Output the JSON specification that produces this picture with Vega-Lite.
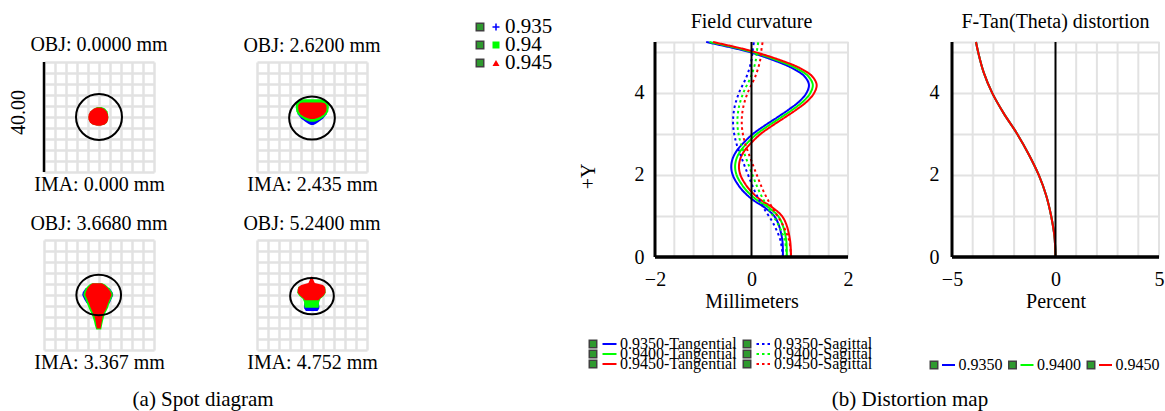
{
"$schema": "https://vega.github.io/schema/vega-lite/v6.json",
"background": "white",
"padding": {"left": 8, "top": 12, "right": 2, "bottom": 2},
"config": {
  "view": {"stroke": null},
  "font": "Liberation Serif",
  "title": {"font": "Liberation Serif", "fontSize": 20, "fontWeight": "normal", "color": "#000000"},
  "axis": {"labelFont": "Liberation Serif", "titleFont": "Liberation Serif", "labelFontSize": 20, "titleFontSize": 20, "labelColor": "#000000", "titleColor": "#000000", "titleFontWeight": "normal", "gridColor": "#e2e2e2", "gridWidth": 2, "ticks": false, "domain": false, "labelFlush": false, "labelOverlap": false, "labelBound": false},
  "text": {"font": "Liberation Serif", "color": "#000000"}
},
"datasets": {
  "spots": [
    {"panel":"p1","wl":"0.940","y":3.6,"xl":-0.6,"xr":0.9},
    {"panel":"p1","wl":"0.940","y":3.1,"xl":-1.8,"xr":2.2},
    {"panel":"p1","wl":"0.940","y":2.0,"xl":-3.1,"xr":3.1},
    {"panel":"p1","wl":"0.940","y":1.0,"xl":-3.6,"xr":3.3},
    {"panel":"p1","wl":"0.940","y":0.0,"xl":-3.8,"xr":3.4},
    {"panel":"p1","wl":"0.940","y":-1.0,"xl":-3.7,"xr":3.3},
    {"panel":"p1","wl":"0.940","y":-2.0,"xl":-3.2,"xr":2.9},
    {"panel":"p1","wl":"0.940","y":-2.7,"xl":-2.3,"xr":2.1},
    {"panel":"p1","wl":"0.940","y":-3.1,"xl":-0.7,"xr":0.6},
    {"panel":"p1","wl":"0.945","y":3.5,"xl":-0.8,"xr":0.6},
    {"panel":"p1","wl":"0.945","y":3.0,"xl":-2.0,"xr":1.8},
    {"panel":"p1","wl":"0.945","y":2.0,"xl":-3.2,"xr":2.8},
    {"panel":"p1","wl":"0.945","y":1.0,"xl":-3.7,"xr":3.2},
    {"panel":"p1","wl":"0.945","y":0.0,"xl":-3.9,"xr":3.4},
    {"panel":"p1","wl":"0.945","y":-1.0,"xl":-3.8,"xr":3.3},
    {"panel":"p1","wl":"0.945","y":-2.0,"xl":-3.3,"xr":2.9},
    {"panel":"p1","wl":"0.945","y":-2.7,"xl":-2.4,"xr":2.1},
    {"panel":"p1","wl":"0.945","y":-3.2,"xl":-0.8,"xr":0.6},

    {"panel":"p2","wl":"0.935","y":5.5,"xl":-5.6,"xr":5.8},
    {"panel":"p2","wl":"0.935","y":3.0,"xl":-5.7,"xr":5.9},
    {"panel":"p2","wl":"0.935","y":1.0,"xl":-5.2,"xr":5.3},
    {"panel":"p2","wl":"0.935","y":-0.5,"xl":-4.0,"xr":4.1},
    {"panel":"p2","wl":"0.935","y":-1.8,"xl":-2.3,"xr":2.4},
    {"panel":"p2","wl":"0.935","y":-2.5,"xl":-1.2,"xr":1.3},
    {"panel":"p2","wl":"0.935","y":-2.9,"xl":-0.4,"xr":0.5},
    {"panel":"p2","wl":"0.940","y":6.5,"xl":-3.0,"xr":3.2},
    {"panel":"p2","wl":"0.940","y":6.1,"xl":-4.8,"xr":5.0},
    {"panel":"p2","wl":"0.940","y":5.2,"xl":-5.8,"xr":6.0},
    {"panel":"p2","wl":"0.940","y":3.5,"xl":-5.9,"xr":6.1},
    {"panel":"p2","wl":"0.940","y":2.0,"xl":-5.7,"xr":5.9},
    {"panel":"p2","wl":"0.940","y":1.0,"xl":-5.1,"xr":5.3},
    {"panel":"p2","wl":"0.940","y":0.0,"xl":-4.1,"xr":4.3},
    {"panel":"p2","wl":"0.940","y":-1.0,"xl":-2.6,"xr":2.8},
    {"panel":"p2","wl":"0.940","y":-1.7,"xl":-0.8,"xr":1.0},
    {"panel":"p2","wl":"0.945","y":5.3,"xl":-3.5,"xr":3.5},
    {"panel":"p2","wl":"0.945","y":5.0,"xl":-4.5,"xr":4.7},
    {"panel":"p2","wl":"0.945","y":4.3,"xl":-5.0,"xr":5.2},
    {"panel":"p2","wl":"0.945","y":3.0,"xl":-5.0,"xr":5.3},
    {"panel":"p2","wl":"0.945","y":2.0,"xl":-4.8,"xr":5.1},
    {"panel":"p2","wl":"0.945","y":1.0,"xl":-4.2,"xr":4.4},
    {"panel":"p2","wl":"0.945","y":0.2,"xl":-3.0,"xr":3.2},
    {"panel":"p2","wl":"0.945","y":-0.4,"xl":-1.8,"xr":2.0},
    {"panel":"p2","wl":"0.945","y":-0.7,"xl":-0.6,"xr":0.8},

    {"panel":"p3","wl":"0.935","y":2.5,"xl":-4.9,"xr":3.9},
    {"panel":"p3","wl":"0.935","y":1.0,"xl":-5.9,"xr":4.9},
    {"panel":"p3","wl":"0.935","y":0.0,"xl":-6.1,"xr":5.2},
    {"panel":"p3","wl":"0.935","y":-1.5,"xl":-5.4,"xr":4.5},
    {"panel":"p3","wl":"0.935","y":-3.0,"xl":-4.5,"xr":3.9},
    {"panel":"p3","wl":"0.940","y":4.3,"xl":-2.5,"xr":1.2},
    {"panel":"p3","wl":"0.940","y":3.8,"xl":-3.5,"xr":2.2},
    {"panel":"p3","wl":"0.940","y":2.5,"xl":-4.8,"xr":3.8},
    {"panel":"p3","wl":"0.940","y":1.0,"xl":-5.5,"xr":4.8},
    {"panel":"p3","wl":"0.940","y":0.0,"xl":-5.7,"xr":5.1},
    {"panel":"p3","wl":"0.940","y":-1.5,"xl":-5.0,"xr":4.4},
    {"panel":"p3","wl":"0.940","y":-3.0,"xl":-4.4,"xr":3.8},
    {"panel":"p3","wl":"0.940","y":-4.8,"xl":-3.7,"xr":3.2},
    {"panel":"p3","wl":"0.940","y":-6.5,"xl":-2.9,"xr":2.3},
    {"panel":"p3","wl":"0.940","y":-8.0,"xl":-2.3,"xr":1.8},
    {"panel":"p3","wl":"0.940","y":-9.6,"xl":-1.8,"xr":1.4},
    {"panel":"p3","wl":"0.940","y":-11.0,"xl":-1.5,"xr":1.1},
    {"panel":"p3","wl":"0.940","y":-12.5,"xl":-1.0,"xr":0.8},
    {"panel":"p3","wl":"0.945","y":4.3,"xl":-2.3,"xr":0.9},
    {"panel":"p3","wl":"0.945","y":3.8,"xl":-3.0,"xr":1.8},
    {"panel":"p3","wl":"0.945","y":2.5,"xl":-4.2,"xr":3.3},
    {"panel":"p3","wl":"0.945","y":1.0,"xl":-4.8,"xr":4.3},
    {"panel":"p3","wl":"0.945","y":0.0,"xl":-5.0,"xr":4.6},
    {"panel":"p3","wl":"0.945","y":-1.5,"xl":-4.3,"xr":3.9},
    {"panel":"p3","wl":"0.945","y":-3.0,"xl":-3.7,"xr":3.3},
    {"panel":"p3","wl":"0.945","y":-4.8,"xl":-3.0,"xr":2.7},
    {"panel":"p3","wl":"0.945","y":-6.5,"xl":-2.2,"xr":1.8},
    {"panel":"p3","wl":"0.945","y":-8.0,"xl":-1.6,"xr":1.3},
    {"panel":"p3","wl":"0.945","y":-9.6,"xl":-1.2,"xr":1.0},
    {"panel":"p3","wl":"0.945","y":-11.0,"xl":-1.0,"xr":0.8},
    {"panel":"p3","wl":"0.945","y":-12.2,"xl":-0.8,"xr":0.6},

    {"panel":"p4","wl":"0.935","y":-3.0,"xl":-2.8,"xr":2.5},
    {"panel":"p4","wl":"0.935","y":-4.2,"xl":-2.9,"xr":2.7},
    {"panel":"p4","wl":"0.935","y":-5.0,"xl":-2.8,"xr":2.6},
    {"panel":"p4","wl":"0.935","y":-5.8,"xl":-2.2,"xr":2.0},
    {"panel":"p4","wl":"0.940","y":3.0,"xl":-5.0,"xr":4.8},
    {"panel":"p4","wl":"0.940","y":0.8,"xl":-5.4,"xr":5.0},
    {"panel":"p4","wl":"0.940","y":-0.4,"xl":-4.6,"xr":4.3},
    {"panel":"p4","wl":"0.940","y":-1.4,"xl":-3.4,"xr":3.1},
    {"panel":"p4","wl":"0.940","y":-2.5,"xl":-2.9,"xr":2.6},
    {"panel":"p4","wl":"0.940","y":-3.8,"xl":-2.8,"xr":2.5},
    {"panel":"p4","wl":"0.940","y":-4.6,"xl":-2.6,"xr":2.4},
    {"panel":"p4","wl":"0.945","y":6.6,"xl":-0.4,"xr":0.0},
    {"panel":"p4","wl":"0.945","y":5.5,"xl":-0.8,"xr":0.5},
    {"panel":"p4","wl":"0.945","y":4.4,"xl":-1.3,"xr":1.0},
    {"panel":"p4","wl":"0.945","y":3.6,"xl":-3.9,"xr":4.0},
    {"panel":"p4","wl":"0.945","y":3.0,"xl":-4.8,"xr":4.6},
    {"panel":"p4","wl":"0.945","y":2.0,"xl":-5.2,"xr":4.9},
    {"panel":"p4","wl":"0.945","y":0.8,"xl":-5.2,"xr":4.9},
    {"panel":"p4","wl":"0.945","y":-0.4,"xl":-4.2,"xr":4.1},
    {"panel":"p4","wl":"0.945","y":-1.4,"xl":-3.0,"xr":2.8},
    {"panel":"p4","wl":"0.945","y":-1.9,"xl":-2.6,"xr":2.4}
  ],
  "airy": [
    {"panel":"p1","x":0,"y":0},
    {"panel":"p2","x":0,"y":-0.4},
    {"panel":"p3","x":-0.1,"y":0},
    {"panel":"p4","x":0,"y":-0.4}
  ],
  "scalebar": [{"panel":"p1","x":-20,"y1":-20,"y2":20}],
  "fc": [
    {"wl":"0.935","kind":"Tangential","field":0,"shift":0.65},{"wl":"0.935","kind":"Tangential","field":0.4,"shift":0.64},{"wl":"0.935","kind":"Tangential","field":0.8,"shift":0.56},{"wl":"0.935","kind":"Tangential","field":1.0,"shift":0.47},{"wl":"0.935","kind":"Tangential","field":1.2,"shift":0.28},{"wl":"0.935","kind":"Tangential","field":1.4,"shift":0.02},{"wl":"0.935","kind":"Tangential","field":1.6,"shift":-0.17},{"wl":"0.935","kind":"Tangential","field":1.8,"shift":-0.30},{"wl":"0.935","kind":"Tangential","field":2.0,"shift":-0.39},{"wl":"0.935","kind":"Tangential","field":2.2,"shift":-0.42},{"wl":"0.935","kind":"Tangential","field":2.4,"shift":-0.39},{"wl":"0.935","kind":"Tangential","field":2.6,"shift":-0.30},{"wl":"0.935","kind":"Tangential","field":2.8,"shift":-0.15},{"wl":"0.935","kind":"Tangential","field":3.0,"shift":0.03},{"wl":"0.935","kind":"Tangential","field":3.2,"shift":0.27},{"wl":"0.935","kind":"Tangential","field":3.4,"shift":0.53},{"wl":"0.935","kind":"Tangential","field":3.6,"shift":0.78},{"wl":"0.935","kind":"Tangential","field":3.8,"shift":1.00},{"wl":"0.935","kind":"Tangential","field":4.0,"shift":1.14},{"wl":"0.935","kind":"Tangential","field":4.2,"shift":1.19},{"wl":"0.935","kind":"Tangential","field":4.4,"shift":1.10},{"wl":"0.935","kind":"Tangential","field":4.6,"shift":0.85},{"wl":"0.935","kind":"Tangential","field":4.8,"shift":0.45},{"wl":"0.935","kind":"Tangential","field":5.0,"shift":-0.06},{"wl":"0.935","kind":"Tangential","field":5.1,"shift":-0.40},{"wl":"0.935","kind":"Tangential","field":5.24,"shift":-0.94},
    {"wl":"0.940","kind":"Tangential","field":0,"shift":0.73},{"wl":"0.940","kind":"Tangential","field":0.4,"shift":0.72},{"wl":"0.940","kind":"Tangential","field":0.8,"shift":0.64},{"wl":"0.940","kind":"Tangential","field":1.0,"shift":0.55},{"wl":"0.940","kind":"Tangential","field":1.2,"shift":0.36},{"wl":"0.940","kind":"Tangential","field":1.4,"shift":0.10},{"wl":"0.940","kind":"Tangential","field":1.6,"shift":-0.09},{"wl":"0.940","kind":"Tangential","field":1.8,"shift":-0.22},{"wl":"0.940","kind":"Tangential","field":2.0,"shift":-0.31},{"wl":"0.940","kind":"Tangential","field":2.2,"shift":-0.34},{"wl":"0.940","kind":"Tangential","field":2.4,"shift":-0.31},{"wl":"0.940","kind":"Tangential","field":2.6,"shift":-0.22},{"wl":"0.940","kind":"Tangential","field":2.8,"shift":-0.07},{"wl":"0.940","kind":"Tangential","field":3.0,"shift":0.11},{"wl":"0.940","kind":"Tangential","field":3.2,"shift":0.35},{"wl":"0.940","kind":"Tangential","field":3.4,"shift":0.61},{"wl":"0.940","kind":"Tangential","field":3.6,"shift":0.86},{"wl":"0.940","kind":"Tangential","field":3.8,"shift":1.08},{"wl":"0.940","kind":"Tangential","field":4.0,"shift":1.22},{"wl":"0.940","kind":"Tangential","field":4.2,"shift":1.27},{"wl":"0.940","kind":"Tangential","field":4.4,"shift":1.18},{"wl":"0.940","kind":"Tangential","field":4.6,"shift":0.93},{"wl":"0.940","kind":"Tangential","field":4.8,"shift":0.52},{"wl":"0.940","kind":"Tangential","field":5.0,"shift":0.00},{"wl":"0.940","kind":"Tangential","field":5.1,"shift":-0.33},{"wl":"0.940","kind":"Tangential","field":5.24,"shift":-0.87},
    {"wl":"0.945","kind":"Tangential","field":0,"shift":0.82},{"wl":"0.945","kind":"Tangential","field":0.4,"shift":0.80},{"wl":"0.945","kind":"Tangential","field":0.8,"shift":0.72},{"wl":"0.945","kind":"Tangential","field":1.0,"shift":0.63},{"wl":"0.945","kind":"Tangential","field":1.2,"shift":0.44},{"wl":"0.945","kind":"Tangential","field":1.4,"shift":0.18},{"wl":"0.945","kind":"Tangential","field":1.6,"shift":-0.01},{"wl":"0.945","kind":"Tangential","field":1.8,"shift":-0.14},{"wl":"0.945","kind":"Tangential","field":2.0,"shift":-0.23},{"wl":"0.945","kind":"Tangential","field":2.2,"shift":-0.26},{"wl":"0.945","kind":"Tangential","field":2.4,"shift":-0.23},{"wl":"0.945","kind":"Tangential","field":2.6,"shift":-0.14},{"wl":"0.945","kind":"Tangential","field":2.8,"shift":0.01},{"wl":"0.945","kind":"Tangential","field":3.0,"shift":0.19},{"wl":"0.945","kind":"Tangential","field":3.2,"shift":0.43},{"wl":"0.945","kind":"Tangential","field":3.4,"shift":0.69},{"wl":"0.945","kind":"Tangential","field":3.6,"shift":0.94},{"wl":"0.945","kind":"Tangential","field":3.8,"shift":1.16},{"wl":"0.945","kind":"Tangential","field":4.0,"shift":1.30},{"wl":"0.945","kind":"Tangential","field":4.2,"shift":1.35},{"wl":"0.945","kind":"Tangential","field":4.4,"shift":1.26},{"wl":"0.945","kind":"Tangential","field":4.6,"shift":1.01},{"wl":"0.945","kind":"Tangential","field":4.8,"shift":0.59},{"wl":"0.945","kind":"Tangential","field":5.0,"shift":0.06},{"wl":"0.945","kind":"Tangential","field":5.1,"shift":-0.27},{"wl":"0.945","kind":"Tangential","field":5.24,"shift":-0.80},
    {"wl":"0.935","kind":"Sagittal","field":0,"shift":0.65},{"wl":"0.935","kind":"Sagittal","field":0.4,"shift":0.60},{"wl":"0.935","kind":"Sagittal","field":0.8,"shift":0.46},{"wl":"0.935","kind":"Sagittal","field":1.2,"shift":0.25},{"wl":"0.935","kind":"Sagittal","field":1.6,"shift":0.07},{"wl":"0.935","kind":"Sagittal","field":2.0,"shift":-0.07},{"wl":"0.935","kind":"Sagittal","field":2.4,"shift":-0.20},{"wl":"0.935","kind":"Sagittal","field":2.8,"shift":-0.32},{"wl":"0.935","kind":"Sagittal","field":3.2,"shift":-0.38},{"wl":"0.935","kind":"Sagittal","field":3.6,"shift":-0.36},{"wl":"0.935","kind":"Sagittal","field":4.0,"shift":-0.26},{"wl":"0.935","kind":"Sagittal","field":4.4,"shift":-0.10},{"wl":"0.935","kind":"Sagittal","field":4.8,"shift":0.00},{"wl":"0.935","kind":"Sagittal","field":5.0,"shift":0.02},{"wl":"0.935","kind":"Sagittal","field":5.24,"shift":0.05},
    {"wl":"0.940","kind":"Sagittal","field":0,"shift":0.73},{"wl":"0.940","kind":"Sagittal","field":0.4,"shift":0.69},{"wl":"0.940","kind":"Sagittal","field":0.8,"shift":0.55},{"wl":"0.940","kind":"Sagittal","field":1.2,"shift":0.34},{"wl":"0.940","kind":"Sagittal","field":1.6,"shift":0.16},{"wl":"0.940","kind":"Sagittal","field":2.0,"shift":0.02},{"wl":"0.940","kind":"Sagittal","field":2.4,"shift":-0.11},{"wl":"0.940","kind":"Sagittal","field":2.8,"shift":-0.23},{"wl":"0.940","kind":"Sagittal","field":3.2,"shift":-0.29},{"wl":"0.940","kind":"Sagittal","field":3.6,"shift":-0.27},{"wl":"0.940","kind":"Sagittal","field":4.0,"shift":-0.17},{"wl":"0.940","kind":"Sagittal","field":4.4,"shift":-0.01},{"wl":"0.940","kind":"Sagittal","field":4.8,"shift":0.09},{"wl":"0.940","kind":"Sagittal","field":5.0,"shift":0.11},{"wl":"0.940","kind":"Sagittal","field":5.24,"shift":0.14},
    {"wl":"0.945","kind":"Sagittal","field":0,"shift":0.82},{"wl":"0.945","kind":"Sagittal","field":0.4,"shift":0.78},{"wl":"0.945","kind":"Sagittal","field":0.8,"shift":0.64},{"wl":"0.945","kind":"Sagittal","field":1.2,"shift":0.43},{"wl":"0.945","kind":"Sagittal","field":1.6,"shift":0.25},{"wl":"0.945","kind":"Sagittal","field":2.0,"shift":0.11},{"wl":"0.945","kind":"Sagittal","field":2.4,"shift":-0.02},{"wl":"0.945","kind":"Sagittal","field":2.8,"shift":-0.14},{"wl":"0.945","kind":"Sagittal","field":3.2,"shift":-0.20},{"wl":"0.945","kind":"Sagittal","field":3.6,"shift":-0.18},{"wl":"0.945","kind":"Sagittal","field":4.0,"shift":-0.08},{"wl":"0.945","kind":"Sagittal","field":4.4,"shift":0.08},{"wl":"0.945","kind":"Sagittal","field":4.8,"shift":0.18},{"wl":"0.945","kind":"Sagittal","field":5.0,"shift":0.20},{"wl":"0.945","kind":"Sagittal","field":5.24,"shift":0.23}
  ],
  "dist": [
    {"wl":"0.935","field":0,"pct":0},{"wl":"0.935","field":0.5,"pct":-0.05},{"wl":"0.935","field":1.0,"pct":-0.21},{"wl":"0.935","field":1.5,"pct":-0.45},{"wl":"0.935","field":2.0,"pct":-0.81},{"wl":"0.935","field":2.5,"pct":-1.29},{"wl":"0.935","field":3.0,"pct":-1.85},{"wl":"0.935","field":3.5,"pct":-2.50},{"wl":"0.935","field":4.0,"pct":-3.06},{"wl":"0.935","field":4.5,"pct":-3.47},{"wl":"0.935","field":5.0,"pct":-3.74},{"wl":"0.935","field":5.24,"pct":-3.84},
    {"wl":"0.940","field":0,"pct":0},{"wl":"0.940","field":0.5,"pct":-0.05},{"wl":"0.940","field":1.0,"pct":-0.21},{"wl":"0.940","field":1.5,"pct":-0.45},{"wl":"0.940","field":2.0,"pct":-0.81},{"wl":"0.940","field":2.5,"pct":-1.29},{"wl":"0.940","field":3.0,"pct":-1.85},{"wl":"0.940","field":3.5,"pct":-2.50},{"wl":"0.940","field":4.0,"pct":-3.06},{"wl":"0.940","field":4.5,"pct":-3.47},{"wl":"0.940","field":5.0,"pct":-3.74},{"wl":"0.940","field":5.24,"pct":-3.84},
    {"wl":"0.945","field":0,"pct":0},{"wl":"0.945","field":0.5,"pct":-0.05},{"wl":"0.945","field":1.0,"pct":-0.21},{"wl":"0.945","field":1.5,"pct":-0.45},{"wl":"0.945","field":2.0,"pct":-0.81},{"wl":"0.945","field":2.5,"pct":-1.29},{"wl":"0.945","field":3.0,"pct":-1.85},{"wl":"0.945","field":3.5,"pct":-2.50},{"wl":"0.945","field":4.0,"pct":-3.06},{"wl":"0.945","field":4.5,"pct":-3.47},{"wl":"0.945","field":5.0,"pct":-3.74},{"wl":"0.945","field":5.24,"pct":-3.84}
  ],
  "fcframe": [{"x": -2, "y1": 0, "y2": 5.24, "w": "edge"}, {"x": 0, "y1": 0, "y2": 5.24, "w": "zero"}],
  "distframe": [{"x": -5, "y1": 0, "y2": 5.24, "w": "edge"}, {"x": 0, "y1": 0, "y2": 5.24, "w": "zero"}],
  "fcgridx": [{"x": -1.6, "y1": 0, "y2": 5.24}, {"x": -1.2, "y1": 0, "y2": 5.24}, {"x": -0.8, "y1": 0, "y2": 5.24}, {"x": -0.4, "y1": 0, "y2": 5.24}, {"x": 0.4, "y1": 0, "y2": 5.24}, {"x": 0.8, "y1": 0, "y2": 5.24}, {"x": 1.2, "y1": 0, "y2": 5.24}, {"x": 1.6, "y1": 0, "y2": 5.24}, {"x": 2, "y1": 0, "y2": 5.24}],
  "distgridx": [{"x": -4, "y1": 0, "y2": 5.24}, {"x": -3, "y1": 0, "y2": 5.24}, {"x": -2, "y1": 0, "y2": 5.24}, {"x": -1, "y1": 0, "y2": 5.24}, {"x": 1, "y1": 0, "y2": 5.24}, {"x": 2, "y1": 0, "y2": 5.24}, {"x": 3, "y1": 0, "y2": 5.24}, {"x": 4, "y1": 0, "y2": 5.24}, {"x": 5, "y1": 0, "y2": 5.24}],
  "base": [{"y": 0}],
  "spotleg": [{"wl":"0.935","label":"0.935"},{"wl":"0.940","label":"0.94"},{"wl":"0.945","label":"0.945"}],
  "fcleg": [
    {"wl":"0.935","kind":"Tangential","label":"0.9350-Tangential"},{"wl":"0.935","kind":"Sagittal","label":"0.9350-Sagittal"},
    {"wl":"0.940","kind":"Tangential","label":"0.9400-Tangential"},{"wl":"0.940","kind":"Sagittal","label":"0.9400-Sagittal"},
    {"wl":"0.945","kind":"Tangential","label":"0.9450-Tangential"},{"wl":"0.945","kind":"Sagittal","label":"0.9450-Sagittal"}
  ],
  "distleg": [{"wl":"0.935","label":"0.9350"},{"wl":"0.940","label":"0.9400"},{"wl":"0.945","label":"0.9450"}]
},
"concat": [
  {
    "concat": [
      {"hconcat": [
        {"width": 110, "height": 110, "title": {"text": "OBJ: 0.0000 mm", "offset": 6},
         "resolve": {"axis": {"x": "independent", "y": "independent"}},
         "layer": [
          {"data": {"name": "spots"}, "transform": [{"filter": "datum.panel == 'p1'"}],
           "mark": {"type": "area", "orient": "horizontal", "opacity": 1},
           "encoding": {
             "y": {"field": "y", "type": "quantitative", "scale": {"domain": [-20, 20], "nice": false, "zero": false}, "axis": {"values": [-20,-16,-12,-8,-4,0,4,8,12,16,20], "labels": false, "grid": true, "gridWidth": 2.5, "title": "40.00", "titlePadding": 16, "titleY": 50}},
             "x": {"field": "xl", "type": "quantitative", "stack": null, "scale": {"domain": [-20, 20], "nice": false, "zero": false}, "axis": {"values": [-20,-16,-12,-8,-4,0,4,8,12,16,20], "labels": false, "grid": true, "gridWidth": 2.5, "title": "IMA: 0.000 mm", "titlePadding": 2}},
             "x2": {"field": "xr"},
             "color": {"field": "wl", "type": "nominal", "scale": {"domain": ["0.935","0.940","0.945"], "range": ["#0000ff","#00ff00","#ff0000"]}, "legend": null}
           }},
          {"data": {"name": "scalebar"}, "mark": {"type": "rule", "color": "#000000", "strokeWidth": 2.5},
           "encoding": {"x": {"field": "x", "type": "quantitative", "axis": null}, "y": {"field": "y1", "type": "quantitative", "axis": null}, "y2": {"field": "y2"}}},
          {"data": {"name": "airy"}, "transform": [{"filter": "datum.panel == 'p1'"}],
           "mark": {"type": "point", "shape": "circle", "size": 2116, "filled": false, "stroke": "#000000", "strokeWidth": 2, "opacity": 1},
           "encoding": {"x": {"field": "x", "type": "quantitative", "axis": null}, "y": {"field": "y", "type": "quantitative", "axis": null}}}
         ]},
        {"width": 110, "height": 110, "title": {"text": "OBJ: 2.6200 mm", "offset": 6},
         "resolve": {"axis": {"x": "independent", "y": "independent"}},
         "layer": [
          {"data": {"name": "spots"}, "transform": [{"filter": "datum.panel == 'p2'"}],
           "mark": {"type": "area", "orient": "horizontal", "opacity": 1},
           "encoding": {
             "y": {"field": "y", "type": "quantitative", "scale": {"domain": [-20, 20], "nice": false, "zero": false}, "axis": {"values": [-20,-16,-12,-8,-4,0,4,8,12,16,20], "labels": false, "grid": true, "gridWidth": 2.5, "title": null}},
             "x": {"field": "xl", "type": "quantitative", "stack": null, "scale": {"domain": [-20, 20], "nice": false, "zero": false}, "axis": {"values": [-20,-16,-12,-8,-4,0,4,8,12,16,20], "labels": false, "grid": true, "gridWidth": 2.5, "title": "IMA: 2.435 mm", "titlePadding": 2}},
             "x2": {"field": "xr"},
             "color": {"field": "wl", "type": "nominal", "scale": {"domain": ["0.935","0.940","0.945"], "range": ["#0000ff","#00ff00","#ff0000"]}, "legend": null}
           }},
          {"data": {"name": "airy"}, "transform": [{"filter": "datum.panel == 'p2'"}],
           "mark": {"type": "point", "shape": "M-1,0A1,0.94,0,1,1,1,0A1,0.94,0,1,1,-1,0Z", "size": 2088, "filled": false, "stroke": "#000000", "strokeWidth": 2, "opacity": 1},
           "encoding": {"x": {"field": "x", "type": "quantitative", "axis": null}, "y": {"field": "y", "type": "quantitative", "axis": null}}}
         ]},
        {"width": 52, "height": 110,
         "data": {"name": "spotleg"},
         "encoding": {"y": {"field": "wl", "type": "nominal", "scale": {"type": "point", "domain": ["0.935","0.940","0.945"], "range": [-35, 1], "padding": 0}, "axis": null}},
         "layer": [
           {"mark": {"type": "point", "shape": "square", "size": 56, "filled": true, "fill": "#2f9a2f", "stroke": "#404040", "strokeWidth": 1.5, "opacity": 1, "xOffset": -16}},
           {"mark": {"type": "point", "size": 49, "filled": true, "opacity": 1},
            "encoding": {
              "color": {"field": "wl", "type": "nominal", "scale": {"domain": ["0.935","0.940","0.945"], "range": ["#6f6fff","#00ff00","#ff0000"]}, "legend": null},
              "shape": {"field": "wl", "type": "nominal", "scale": {"domain": ["0.935","0.940","0.945"], "range": ["M-1,-0.22H-0.22V-1H0.22V-0.22H1V0.22H0.22V1H-0.22V0.22H-1Z", "square", "triangle-up"]}, "legend": null}
            }},
           {"mark": {"type": "text", "align": "left", "baseline": "middle", "dx": 9, "fontSize": 21, "font": "Liberation Serif", "color": "#000000"},
            "encoding": {"text": {"field": "label"}}}
         ]}
      ], "spacing": 103, "bounds": "flush"},
      {"hconcat": [
        {"width": 110, "height": 110, "title": {"text": "OBJ: 3.6680 mm", "offset": 6},
         "resolve": {"axis": {"x": "independent", "y": "independent"}},
         "layer": [
          {"data": {"name": "spots"}, "transform": [{"filter": "datum.panel == 'p3'"}],
           "mark": {"type": "area", "orient": "horizontal", "opacity": 1},
           "encoding": {
             "y": {"field": "y", "type": "quantitative", "scale": {"domain": [-20, 20], "nice": false, "zero": false}, "axis": {"values": [-20,-16,-12,-8,-4,0,4,8,12,16,20], "labels": false, "grid": true, "gridWidth": 2.5, "title": null}},
             "x": {"field": "xl", "type": "quantitative", "stack": null, "scale": {"domain": [-20, 20], "nice": false, "zero": false}, "axis": {"values": [-20,-16,-12,-8,-4,0,4,8,12,16,20], "labels": false, "grid": true, "gridWidth": 2.5, "title": "IMA: 3.367 mm", "titlePadding": 2}},
             "x2": {"field": "xr"},
             "color": {"field": "wl", "type": "nominal", "scale": {"domain": ["0.935","0.940","0.945"], "range": ["#0000ff","#00ff00","#ff0000"]}, "legend": null}
           }},
          {"data": {"name": "airy"}, "transform": [{"filter": "datum.panel == 'p3'"}],
           "mark": {"type": "point", "shape": "M-1,0A1,0.91,0,1,1,1,0A1,0.91,0,1,1,-1,0Z", "size": 1998, "filled": false, "stroke": "#000000", "strokeWidth": 2, "opacity": 1},
           "encoding": {"x": {"field": "x", "type": "quantitative", "axis": null}, "y": {"field": "y", "type": "quantitative", "axis": null}}}
         ]},
        {"width": 110, "height": 110, "title": {"text": "OBJ: 5.2400 mm", "offset": 6},
         "resolve": {"axis": {"x": "independent", "y": "independent"}},
         "layer": [
          {"data": {"name": "spots"}, "transform": [{"filter": "datum.panel == 'p4'"}],
           "mark": {"type": "area", "orient": "horizontal", "opacity": 1},
           "encoding": {
             "y": {"field": "y", "type": "quantitative", "scale": {"domain": [-20, 20], "nice": false, "zero": false}, "axis": {"values": [-20,-16,-12,-8,-4,0,4,8,12,16,20], "labels": false, "grid": true, "gridWidth": 2.5, "title": null}},
             "x": {"field": "xl", "type": "quantitative", "stack": null, "scale": {"domain": [-20, 20], "nice": false, "zero": false}, "axis": {"values": [-20,-16,-12,-8,-4,0,4,8,12,16,20], "labels": false, "grid": true, "gridWidth": 2.5, "title": "IMA: 4.752 mm", "titlePadding": 2}},
             "x2": {"field": "xr"},
             "color": {"field": "wl", "type": "nominal", "scale": {"domain": ["0.935","0.940","0.945"], "range": ["#0000ff","#00ff00","#ff0000"]}, "legend": null}
           }},
          {"data": {"name": "airy"}, "transform": [{"filter": "datum.panel == 'p4'"}],
           "mark": {"type": "point", "shape": "M-1,0A1,0.83,0,1,1,1,0A1,0.83,0,1,1,-1,0Z", "size": 1910, "filled": false, "stroke": "#000000", "strokeWidth": 2, "opacity": 1},
           "encoding": {"x": {"field": "x", "type": "quantitative", "axis": null}, "y": {"field": "y", "type": "quantitative", "axis": null}}}
         ]}
      ], "spacing": 103, "bounds": "flush"}
    ],
    "columns": 1, "align": "each",
    "spacing": 20, "bounds": "full",
    "title": {"text": "(a) Spot diagram", "orient": "bottom", "anchor": "middle", "frame": "bounds", "offset": 17, "dx": -77, "fontSize": 21}
  },
  {
    "hconcat": [
      {"vconcat": [
        {"width": 193, "height": 195, "title": {"text": "Field curvature", "offset": 0},
         "resolve": {"axis": {"x": "independent", "y": "independent"}},
         "layer": [
          {"data": {"name": "fcgridx"}, "mark": {"type": "rule", "color": "#e2e2e2", "strokeWidth": 2},
           "encoding": {"x": {"field": "x", "type": "quantitative", "axis": null}, "y": {"field": "y1", "type": "quantitative", "axis": null}, "y2": {"field": "y2"}}},
          {"data": {"name": "fc"}, "mark": {"type": "line", "strokeWidth": 2, "interpolate": "catmull-rom"},
           "encoding": {
             "x": {"field": "shift", "type": "quantitative", "scale": {"domain": [-2, 2], "nice": false, "zero": false},
                   "axis": {"values": [-2, 0, 2], "format": "d", "grid": false, "labelOverlap": false, "labelBound": false, "title": "Millimeters", "labelPadding": 12, "titlePadding": 2}},
             "y": {"field": "field", "type": "quantitative", "scale": {"domain": [0, 5.24], "nice": false, "zero": false, "range": [195, -20]},
                   "axis": {"values": [0,1,2,3,4,5,5.24], "grid": true, "gridColor": "#e2e2e2", "gridWidth": 2, "labelExpr": "(datum.value == 0 || datum.value == 2 || datum.value == 4) ? datum.label : ''", "labelOverlap": false, "title": "+Y", "labelPadding": 11, "titlePadding": 36, "titleY": 114}},
             "color": {"field": "wl", "type": "nominal", "scale": {"domain": ["0.935","0.940","0.945"], "range": ["#0000ff","#00ff00","#ff0000"]}, "legend": null},
             "strokeDash": {"field": "kind", "type": "nominal", "scale": {"domain": ["Tangential","Sagittal"], "range": [[1,0],[2.5,3]]}, "legend": null},
             "order": {"field": "field", "type": "quantitative"}
           }},
          {"data": {"name": "fcframe"}, "mark": {"type": "rule", "color": "#000000"},
           "encoding": {"x": {"field": "x", "type": "quantitative", "axis": null}, "y": {"field": "y1", "type": "quantitative", "axis": null}, "y2": {"field": "y2"},
                        "strokeWidth": {"field": "w", "type": "nominal", "scale": {"domain": ["edge","zero"], "range": [3, 2]}, "legend": null}}},
          {"data": {"name": "base"}, "mark": {"type": "rule", "color": "#000000", "strokeWidth": 3.5},
           "encoding": {"y": {"field": "y", "type": "quantitative", "axis": null}}}
         ]},
        {"width": 193, "height": 30,
         "data": {"name": "fcleg"},
         "encoding": {
           "x": {"field": "kind", "type": "nominal", "scale": {"type": "point", "domain": ["Tangential","Sagittal"], "range": [-45.5, 108.5], "padding": 0}, "axis": null},
           "y": {"field": "wl", "type": "nominal", "scale": {"type": "point", "domain": ["0.935","0.940","0.945"], "padding": 0.5}, "axis": null}
         },
         "layer": [
           {"mark": {"type": "point", "shape": "square", "size": 56, "filled": true, "fill": "#2f9a2f", "stroke": "#404040", "strokeWidth": 1.5, "opacity": 1, "xOffset": -16.5}},
           {"mark": {"type": "point", "shape": "stroke", "size": 196, "filled": false, "strokeWidth": 2, "opacity": 1},
            "encoding": {
              "color": {"field": "wl", "type": "nominal", "scale": {"domain": ["0.935","0.940","0.945"], "range": ["#0000ff","#00ff00","#ff0000"]}, "legend": null},
              "strokeDash": {"field": "kind", "type": "nominal", "scale": {"domain": ["Tangential","Sagittal"], "range": [[1,0],[2,3]]}, "legend": null}
            }},
           {"mark": {"type": "text", "align": "left", "baseline": "middle", "dx": 10.5, "fontSize": 16, "font": "Liberation Serif", "color": "#000000"},
            "encoding": {"text": {"field": "label"}}}
         ]}
      ], "spacing": 82, "bounds": "flush"},
      {"vconcat": [
        {"width": 207, "height": 195, "title": {"text": "F-Tan(Theta) distortion", "offset": 0},
         "resolve": {"axis": {"x": "independent", "y": "independent"}},
         "layer": [
          {"data": {"name": "distgridx"}, "mark": {"type": "rule", "color": "#e2e2e2", "strokeWidth": 2},
           "encoding": {"x": {"field": "x", "type": "quantitative", "axis": null}, "y": {"field": "y1", "type": "quantitative", "axis": null}, "y2": {"field": "y2"}}},
          {"data": {"name": "dist"}, "mark": {"type": "line", "strokeWidth": 2, "interpolate": "catmull-rom"},
           "encoding": {
             "x": {"field": "pct", "type": "quantitative", "scale": {"domain": [-5, 5], "nice": false, "zero": false},
                   "axis": {"values": [-5, 0, 5], "format": "d", "grid": false, "labelOverlap": false, "labelBound": false, "title": "Percent", "labelPadding": 12, "titlePadding": 2}},
             "y": {"field": "field", "type": "quantitative", "scale": {"domain": [0, 5.24], "nice": false, "zero": false, "range": [195, -20]},
                   "axis": {"values": [0,1,2,3,4,5,5.24], "grid": true, "gridColor": "#e2e2e2", "gridWidth": 2, "labelExpr": "(datum.value == 0 || datum.value == 2 || datum.value == 4) ? datum.label : ''", "labelOverlap": false, "title": null, "labelPadding": 13}},
             "color": {"field": "wl", "type": "nominal", "scale": {"domain": ["0.935","0.940","0.945"], "range": ["#0000ff","#00ff00","#ff0000"]}, "legend": null},
             "order": {"field": "field", "type": "quantitative"}
           }},
          {"data": {"name": "distframe"}, "mark": {"type": "rule", "color": "#000000"},
           "encoding": {"x": {"field": "x", "type": "quantitative", "axis": null}, "y": {"field": "y1", "type": "quantitative", "axis": null}, "y2": {"field": "y2"},
                        "strokeWidth": {"field": "w", "type": "nominal", "scale": {"domain": ["edge","zero"], "range": [3, 2]}, "legend": null}}},
          {"data": {"name": "base"}, "mark": {"type": "rule", "color": "#000000", "strokeWidth": 3.5},
           "encoding": {"y": {"field": "y", "type": "quantitative", "axis": null}}}
         ]},
        {"width": 207, "height": 10,
         "data": {"name": "distleg"},
         "encoding": {
           "x": {"field": "wl", "type": "nominal", "scale": {"type": "point", "domain": ["0.935","0.940","0.945"], "range": [-3.5, 153.5], "padding": 0}, "axis": null}
         },
         "layer": [
           {"mark": {"type": "point", "shape": "square", "size": 56, "filled": true, "fill": "#2f9a2f", "stroke": "#404040", "strokeWidth": 1.5, "opacity": 1, "xOffset": -14.5}},
           {"mark": {"type": "point", "shape": "stroke", "size": 169, "filled": false, "strokeWidth": 2, "opacity": 1},
            "encoding": {"color": {"field": "wl", "type": "nominal", "scale": {"domain": ["0.935","0.940","0.945"], "range": ["#0000ff","#00ff00","#ff0000"]}, "legend": null}}},
           {"mark": {"type": "text", "align": "left", "baseline": "middle", "dx": 10, "fontSize": 16, "font": "Liberation Serif", "color": "#000000"},
            "encoding": {"text": {"field": "label"}}}
         ]}
      ], "spacing": 103, "bounds": "flush"}
    ],
    "spacing": 54, "bounds": "full",
    "title": {"text": "(b) Distortion map", "orient": "bottom", "anchor": "middle", "frame": "bounds", "offset": 16, "dx": 39, "fontSize": 21}
  }
],
"align": "none",
"spacing": 25,
"bounds": "full"
}
